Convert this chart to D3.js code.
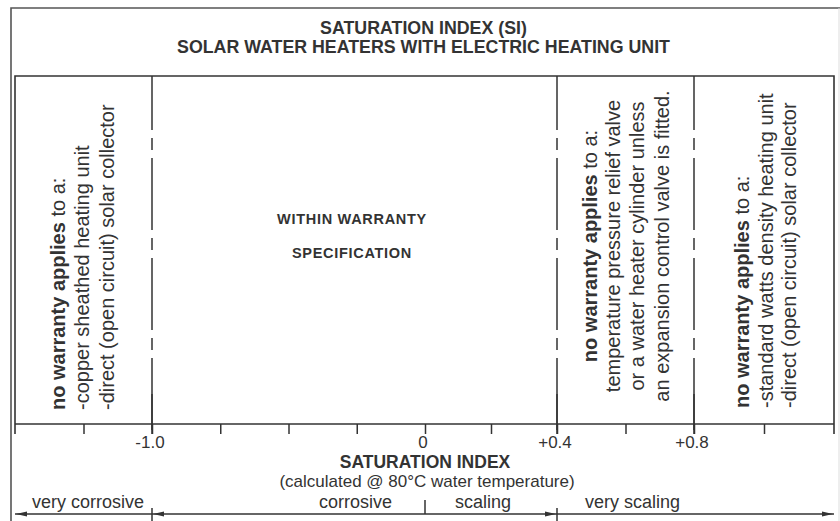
<!DOCTYPE html>
<html>
<head>
<meta charset="utf-8">
<script src="https://cdn.jsdelivr.net/npm/d3@7"></script>
<style>
  html, body { margin: 0; padding: 0; background: #fff; }
  svg text { font-family: "Liberation Sans", Arial, sans-serif; fill: #333; }
</style>
</head>
<body>
<svg id="chart" width="840" height="521"></svg>
<script>
// ---------------- data ----------------
const titleLines = ["SATURATION INDEX (SI)", "SOLAR WATER HEATERS WITH ELECTRIC HEATING UNIT"];
const scaleBreaks = [-1.5, -1.0, 0, 0.4, 0.8, 1.2];          // schematic (non-linear) axis
const minorTicks = [-1.25, -1.0, -0.75, -0.5, -0.25, 0, 0.2, 0.4, 0.6, 0.8, 1.0];
const labelTicks = [-1.0, 0, 0.4, 0.8];
const labelTickText = ["-1.0", "0", "+0.4", "+0.8"];
const boundaries = [-1.0, 0.4, 0.8];
const axisTitle = "SATURATION INDEX";
const axisSubtitle = "(calculated @ 80°C water temperature)";
const zoneNames = ["very corrosive", "corrosive", "scaling", "very scaling"];
const zoneDividers = [-1.0, 0, 0.4];
const centerText = ["WITHIN WARRANTY", "SPECIFICATION"];
const col1Lines = [["no warranty applies", " to a:"], ["", "-copper sheathed heating unit"], ["", "-direct (open circuit) solar collector"]];
const col3Lines = [["no warranty applies", " to a:"], ["", "temperature pressure relief valve"], ["", "or a water heater cylinder unless"], ["", "an expansion control valve is fitted."]];
const col4Lines = [["no warranty applies", " to a:"], ["", "-standard watts density heating unit"], ["", "-direct (open circuit) solar collector"]];

// ---------------- layout ----------------
const svg = d3.select("#chart");
const stroke = "#333";
const boxTop = 76, axisY = 424, tickLen = 10;
const x = d3.scaleLinear().domain(scaleBreaks).range([15, 152, 425, 557, 694, 834]);
const left = x(scaleBreaks[0]), right = x(scaleBreaks[scaleBreaks.length - 1]);

// outer frame
svg.append("path").attr("d", `M11,530 L11,8 L840,8`).attr("fill", "none").attr("stroke", "#555").attr("stroke-width", 1.6);
svg.append("line").attr("x1", 839).attr("x2", 839).attr("y1", 8).attr("y2", 521).attr("stroke", "#ddd").attr("stroke-width", 1);

// title
svg.selectAll("text.title").data(titleLines).join("text")
  .attr("class", "title").attr("x", (left + right) / 2 - 1).attr("y", (d, i) => 34 + i * 19)
  .attr("text-anchor", "middle").attr("font-size", 17.8).attr("font-weight", "bold").text(d => d);

// inner box: top, left, right edges
svg.append("path").attr("d", `M${left},${axisY + tickLen} L${left},${boxTop} L${right},${boxTop} L${right},${axisY + tickLen}`)
  .attr("fill", "none").attr("stroke", stroke).attr("stroke-width", 1.6);

// boundaries (dash-dot)
svg.selectAll("line.bound").data(boundaries).join("line")
  .attr("class", "bound").attr("x1", d => x(d)).attr("x2", d => x(d))
  .attr("y1", boxTop).attr("y2", axisY + tickLen)
  .attr("stroke", stroke).attr("stroke-width", 1.5)
  .attr("stroke-dasharray", "72,8,12,8").attr("stroke-dashoffset", 18);
svg.selectAll("line.boundLow").data(boundaries).join("line")
  .attr("x1", d => x(d)).attr("x2", d => x(d)).attr("y1", axisY - 30).attr("y2", axisY + tickLen)
  .attr("stroke", stroke).attr("stroke-width", 1.5);

// axis
const axis = d3.axisBottom(x).tickValues(minorTicks).tickSize(tickLen).tickFormat("");
const axG = svg.append("g").attr("transform", `translate(0,${axisY})`).call(axis);
axG.select(".domain").remove();
axG.selectAll(".tick line").attr("stroke", stroke).attr("stroke-width", 1.5);
svg.append("line").attr("x1", left).attr("x2", right).attr("y1", axisY).attr("y2", axisY)
  .attr("stroke", stroke).attr("stroke-width", 1.6);

svg.selectAll("text.tl").data(labelTicks).join("text")
  .attr("class", "tl").attr("x", d => x(d) - 2).attr("y", axisY + 24)
  .attr("text-anchor", "middle").attr("font-size", 17)
  .text((d, i) => labelTickText[i]);

svg.append("text").attr("x", x(0)).attr("y", axisY + 44).attr("text-anchor", "middle")
  .attr("font-size", 17.5).attr("font-weight", "bold").text(axisTitle);
svg.append("text").attr("x", x(0)+2).attr("y", axisY + 63).attr("text-anchor", "middle")
  .attr("font-size", 17).text(axisSubtitle);

// bottom zones line
const zoneY = 514;
svg.append("line").attr("x1", left).attr("x2", right).attr("y1", zoneY).attr("y2", zoneY)
  .attr("stroke", stroke).attr("stroke-width", 1.4);
svg.selectAll("line.zd").data(zoneDividers).join("line")
  .attr("x1", d => x(d)).attr("x2", d => x(d))
  .attr("y1", d => d === 0 ? zoneY - 14 : zoneY - 6).attr("y2", d => d === 0 ? zoneY : zoneY + 8)
  .attr("stroke", stroke).attr("stroke-width", 1.5);
const arrows = [[x(-1.5), -1], [x(-1.0), -1], [x(0.4), 1], [x(1.2), 1]];
svg.selectAll("path.arr").data(arrows).join("path")
  .attr("d", d => {
    const tip = d[0] + (d[1] < 0 ? 1 : -1), base = tip - d[1] * 11;
    return `M${tip},${zoneY} L${base},${zoneY - 2.5} L${base},${zoneY + 2.5} Z`;
  })
  .attr("fill", stroke);

const zoneLabelPos = [
  { x: x(-1.5) + 17, anchor: "start" },
  { x: x(0) - 33, anchor: "end" },
  { x: x(0) + 30, anchor: "start" },
  { x: x(0.4) + 28, anchor: "start" }
];
svg.selectAll("text.zn").data(zoneNames).join("text")
  .attr("x", (d, i) => zoneLabelPos[i].x).attr("y", zoneY - 6)
  .attr("text-anchor", (d, i) => zoneLabelPos[i].anchor).attr("font-size", 18).text(d => d);

// center text
svg.selectAll("text.ct").data(centerText).join("text")
  .attr("x", 352).attr("y", (d, i) => 224 + i * 34).attr("text-anchor", "middle")
  .attr("font-size", 14.5).attr("font-weight", "bold").attr("letter-spacing", 0.7).text(d => d);

// vertical text columns
function vcol(lines, xs, y, anchor) {
  lines.forEach((ln, i) => {
    const t = svg.append("text")
      .attr("transform", `translate(${xs[i]},${y}) rotate(-90)`)
      .attr("text-anchor", anchor).attr("dy", "0.35em").attr("font-size", 20);
    if (ln[0]) t.append("tspan").attr("font-weight", "bold").text(ln[0]);
    t.append("tspan").text(ln[1]);
  });
}
vcol(col1Lines, [58, 82, 107], 410, "start");
vcol(col3Lines, [590, 613, 637, 662], 246, "middle");
vcol(col4Lines, [742, 766, 789], 408, "start");
</script>
</body>
</html>
